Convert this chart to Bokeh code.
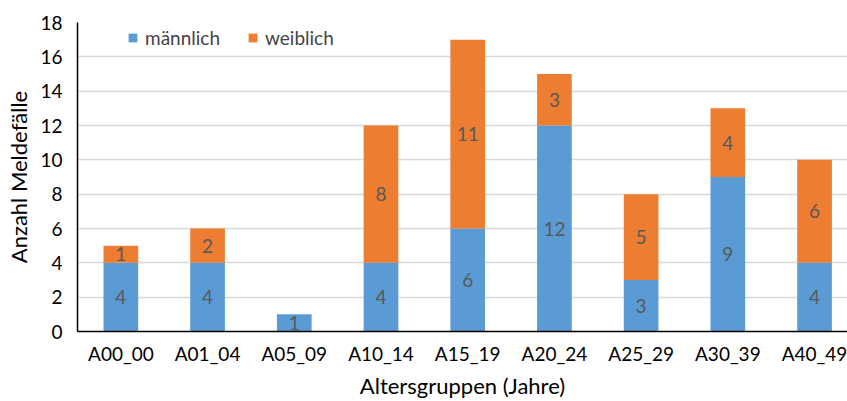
from bokeh.plotting import figure
from bokeh.models import ColumnDataSource, FixedTicker, Legend, LegendItem, Range1d
from bokeh.core.properties import value
from bokeh.embed import file_html
from bokeh.resources import INLINE

categories = ["A00_00", "A01_04", "A05_09", "A10_14", "A15_19", "A20_24", "A25_29", "A30_39", "A40_49"]
maennlich = [4, 4, 1, 4, 6, 12, 3, 9, 4]
weiblich = [1, 2, 0, 8, 11, 3, 5, 4, 6]
y_ticks = [0, 2, 4, 6, 8, 10, 12, 14, 16, 18]

BLUE = "#5B9BD5"
ORANGE = "#ED7D31"
FONT = "Lato"

xs = list(range(len(categories)))
src = ColumnDataSource(dict(x=xs, m=maennlich, w=weiblich,
                            top_w=[a + b for a, b in zip(maennlich, weiblich)]))

p = figure(width=847, height=401, output_backend="svg", toolbar_location=None,
           x_range=Range1d(-0.5, 8.38), y_range=Range1d(0, 18),
           min_border_left=77, min_border_right=0, min_border_top=22, min_border_bottom=70)
p.outline_line_color = None
p.background_fill_color = "white"

r_m = p.vbar(x="x", bottom=0, top="m", width=0.4, source=src, fill_color=BLUE, line_color=None)
r_w = p.vbar(x="x", bottom="m", top="top_w", width=0.4, source=src, fill_color=ORANGE, line_color=None)

# data labels
lx, ly, lt = [], [], []
for i, (a, b) in enumerate(zip(maennlich, weiblich)):
    if a:
        lx.append(i); ly.append(a / 2); lt.append(str(a))
    if b:
        lx.append(i); ly.append(a + b / 2); lt.append(str(b))
p.text(x=lx, y=ly, text=lt, text_align="center", text_baseline="middle",
       text_font=value(FONT), text_font_size="19px", text_color="#595959")

p.xgrid.grid_line_color = None
p.ygrid.grid_line_color = "#D9D9D9"
p.ygrid.grid_line_width = 1.5

p.yaxis.ticker = FixedTicker(ticks=y_ticks)
p.xaxis.ticker = FixedTicker(ticks=xs)
p.xaxis.major_label_overrides = {i: c for i, c in enumerate(categories)}
for ax in (p.xaxis, p.yaxis):
    ax.axis_line_color = "black"
    ax.axis_line_width = 1.5
    ax.major_tick_line_color = None
    ax.minor_tick_line_color = None
    ax.major_label_text_font = FONT
    ax.major_label_text_font_size = "19px"
    ax.major_label_text_color = "black"
    ax.axis_label_text_font = FONT
    ax.axis_label_text_font_size = "22px"
    ax.axis_label_text_font_style = "normal"
    ax.axis_label_text_color = "black"
p.xaxis.axis_label = "Altersgruppen (Jahre)"
p.yaxis.axis_label = "Anzahl Meldefälle"
p.xaxis.major_label_standoff = 4
p.xaxis.axis_label_standoff = 4
p.yaxis.major_tick_out = 0
p.yaxis.major_tick_in = 0
p.yaxis.major_label_standoff = 15
p.yaxis.axis_label_standoff = 5

legend = Legend(items=[LegendItem(label="männlich", renderers=[r_m]),
                       LegendItem(label="weiblich", renderers=[r_w])],
                orientation="horizontal", location=(50, 282),
                padding=2, margin=0, spacing=27, label_standoff=7,
                glyph_width=11, glyph_height=11,
                label_text_font=FONT, label_text_font_size="19px",
                border_line_color=None, background_fill_alpha=0)
p.add_layout(legend)

open("out.html", "w").write(file_html(p, INLINE))
